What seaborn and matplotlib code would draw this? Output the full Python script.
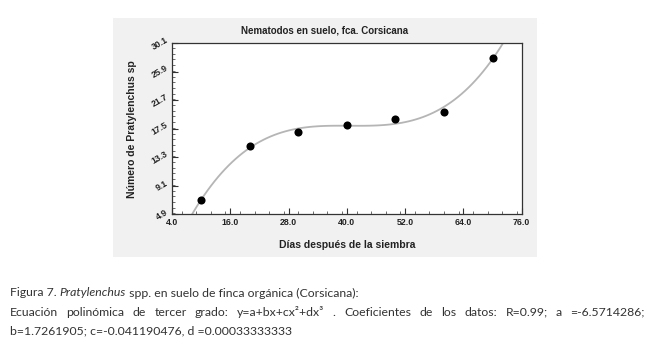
import numpy as np
import pandas as pd
import matplotlib
matplotlib.use("Agg")
import matplotlib.pyplot as plt
from matplotlib.ticker import MultipleLocator
import seaborn as sns

# data
dias = [10, 20, 30, 40, 50, 60, 70]
numero = [7, 15, 17, 18, 19, 20, 28]
xticks = [4.0, 16.0, 28.0, 40.0, 52.0, 64.0, 76.0]
yticks = [4.9, 9.1, 13.3, 17.5, 21.7, 25.9, 30.1]

titulo = "Nematodos en suelo, fca. Corsicana"
xlab = "Días después de la siembra"
ylab = "Número de Pratylenchus sp"
linea2 = ("Ecuación polinómica de tercer grado: y=a+bx+cx²+dx³ . Coeficientes de los datos: "
          "R=0.99; a =-6.5714286;")
linea3 = "b=1.7261905; c=-0.041190476, d =0.00033333333"

df = pd.DataFrame({"dias": dias, "numero": numero})

sns.set_style("white")
plt.rcParams["font.family"] = ["Liberation Sans", "DejaVu Sans"]
plt.rcParams["xtick.direction"] = "in"
plt.rcParams["ytick.direction"] = "in"

fig = plt.figure(figsize=(6.56, 3.51), dpi=100)
fig.patch.set_facecolor("white")
# grey panel behind the chart
fig.patches.append(plt.Rectangle((0.172, 0.268), 0.646, 0.682, transform=fig.transFigure,
                                 facecolor="#f1f1f1", edgecolor="none", zorder=0))

ax = fig.add_axes([0.2622, 0.3895, 0.5331, 0.4871])
ax.set_zorder(2)
ax.set_facecolor("white")
ax.set_xlim(4, 76)
ax.set_ylim(4.9, 30.1)

sns.regplot(data=df, x="dias", y="numero", order=3, ci=None, truncate=False, ax=ax,
            scatter_kws={"s": 34, "color": "black", "alpha": 1, "zorder": 3, "linewidths": 0},
            line_kws={"color": "#b5b5b5", "lw": 1.3, "zorder": 2})

ax.set_xticks(xticks)
ax.set_xticklabels([f"{v:.1f}" for v in xticks])
ax.set_yticks(yticks)
ax.set_yticklabels([f"{v:.1f}" for v in yticks], rotation=30, va="center")
ax.xaxis.set_minor_locator(MultipleLocator(3))
ax.yaxis.set_minor_locator(MultipleLocator(0.84))
ax.tick_params(axis="both", which="both", bottom=True, left=True, top=False, right=False)
ax.tick_params(axis="both", which="major", length=4, width=0.8, color="#333333",
               labelsize=6.3, labelcolor="#222222", pad=3)
ax.tick_params(axis="y", which="major", pad=2)
ax.tick_params(axis="both", which="minor", length=2.5, width=0.6, color="#555555")
for lbl in ax.get_xticklabels() + ax.get_yticklabels():
    lbl.set_fontweight("bold")
for sp in ax.spines.values():
    sp.set_color("#333333")
    sp.set_linewidth(0.9)

ax.set_xlabel(xlab, fontsize=7.5, fontweight="bold", labelpad=9, color="#222222")
ax.set_ylabel(ylab, fontsize=7.5, fontweight="bold", labelpad=9, color="#222222")
fig.text(0.4955, 0.914, titulo, ha="center", va="center", fontsize=7, fontweight="bold",
         color="#222222")

# caption
cap_font = ["Lato", "DejaVu Sans"]
cap_col = "#333333"
cap_size = 8.8
fig.canvas.draw()
r = fig.canvas.get_renderer()

def width_of(t):
    return t.get_window_extent(renderer=r).width

x0 = 10 / 656
y1 = 1 - 293 / 351
parts = [("Figura 7. ", "normal"), ("Pratylenchus", "italic"),
         (" spp. en suelo de finca orgánica (Corsicana):", "normal")]
xc = x0
for s, st in parts:
    t = fig.text(xc, y1, s, fontsize=cap_size, family=cap_font, style=st, color=cap_col,
                 ha="left", va="center")
    xc += width_of(t) / 656

# justified second line
y2 = 1 - 312 / 351
words = linea2.split(" ")
objs = [fig.text(0, y2, w, fontsize=cap_size, family=cap_font, color=cap_col,
                 ha="left", va="center") for w in words]
ws = [width_of(o) for o in objs]
gap = (645 - 10 - sum(ws)) / (len(words) - 1)
xp = 10
for o, w in zip(objs, ws):
    o.set_x(xp / 656)
    xp += w + gap

fig.text(x0, 1 - 331 / 351, linea3, fontsize=cap_size, family=cap_font, color=cap_col,
         ha="left", va="center")

fig.savefig("out.png", dpi=100)
